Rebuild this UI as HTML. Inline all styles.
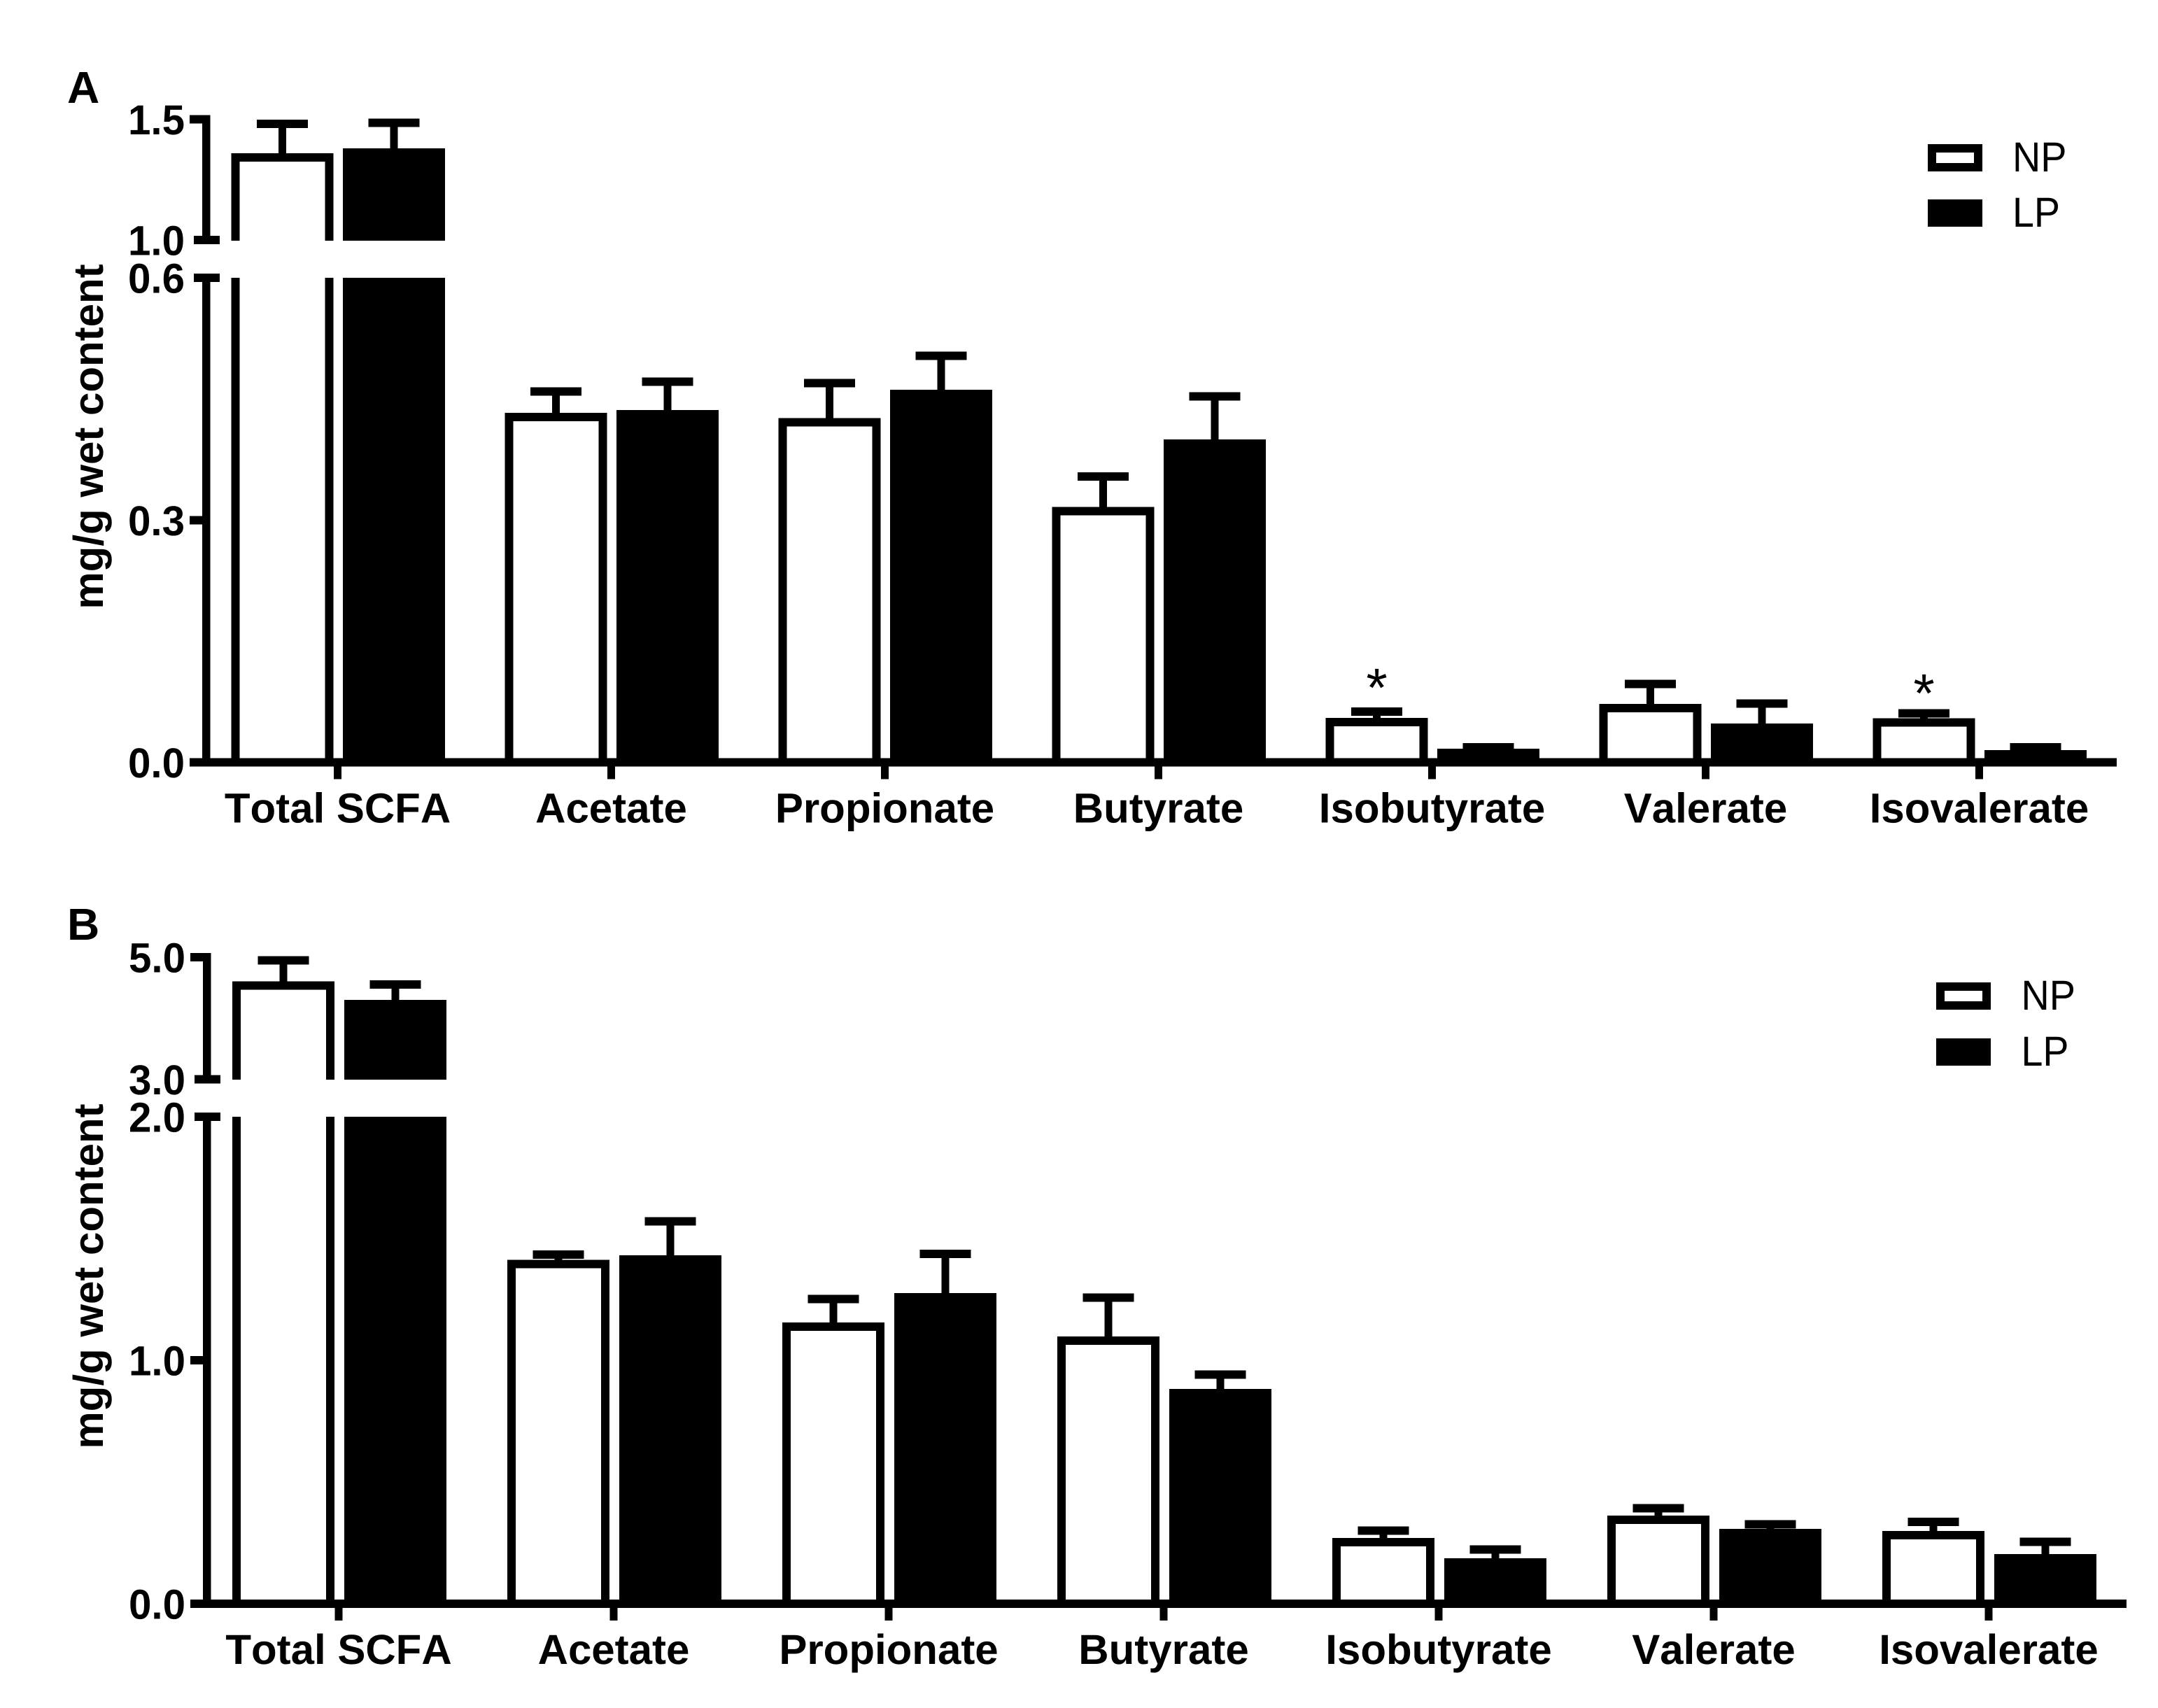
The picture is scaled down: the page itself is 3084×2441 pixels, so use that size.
<!DOCTYPE html>
<html lang="en">
<head>
<meta charset="utf-8">
<title>SCFA content bar charts</title>
<style>
  html, body { margin: 0; padding: 0; background: #fff; }
  svg { display: block; }
  text { font-family: "Liberation Sans", Arial, sans-serif; fill: #000; text-rendering: geometricPrecision; font-kerning: none; }
  .bold { font-weight: bold; }
</style>
</head>
<body>
<svg id="chart" xmlns="http://www.w3.org/2000/svg" width="3084" height="2441" viewBox="0 0 3084 2441">
  <rect x="0" y="0" width="3084" height="2441" fill="#fff"/>
  <text class="bold" x="96" y="147" font-size="64">A</text>
  <text class="bold" x="96" y="1343" font-size="64">B</text>
  <text class="bold" font-size="60" text-anchor="middle" transform="translate(147 624) rotate(-90)">mg/g wet content</text>
  <text class="bold" font-size="60" text-anchor="middle" transform="translate(147 1824) rotate(-90)">mg/g wet content</text>

  <g>
    <rect x="2761" y="212" width="66" height="27" fill="#fff" stroke="#000" stroke-width="12"/>
    <rect x="2755" y="285" width="78" height="39" fill="#000"/>
    <text x="2876" y="245" font-size="60" textLength="77.5" lengthAdjust="spacingAndGlyphs">NP</text>
    <text x="2876" y="324" font-size="60" textLength="68" lengthAdjust="spacingAndGlyphs">LP</text>
  </g>
  <g>
    <rect x="2773" y="1410" width="66" height="27" fill="#fff" stroke="#000" stroke-width="12"/>
    <rect x="2767" y="1484" width="78" height="39" fill="#000"/>
    <text x="2888.5" y="1443" font-size="60" textLength="77.5" lengthAdjust="spacingAndGlyphs">NP</text>
    <text x="2888.5" y="1523" font-size="60" textLength="68" lengthAdjust="spacingAndGlyphs">LP</text>
  </g>
  <g id="plots" shape-rendering="crispEdges"></g>
</svg>
<script>
// ---- data ----
const categories = ['Total SCFA', 'Acetate', 'Propionate', 'Butyrate', 'Isobutyrate', 'Valerate', 'Isovalerate'];

const panelA_np = [1.342, 0.4276, 0.4211, 0.3111, 0.0500, 0.0673, 0.0495];
const panelA_lp = [1.362, 0.4311, 0.4562, 0.3947, 0.0119, 0.0430, 0.0101];
const panelA_np_upper = [1.481, 0.4592, 0.4696, 0.3540, 0.0630, 0.0972, 0.0608];
const panelA_lp_upper = [1.486, 0.4714, 0.5034, 0.4532, 0.0188, 0.0729, 0.0188];
const panelA_ticks = ['0.0', '0.3', '0.6', '1.0', '1.5'];
const panelA_sig_categories = ['Isobutyrate', 'Isovalerate'];
const panelA_sig_levels = [0.1067, 0.0998];

const panelB_np = [4.536, 1.395, 1.138, 1.080, 0.253, 0.345, 0.282];
const panelB_lp = [4.232, 1.414, 1.259, 0.865, 0.170, 0.290, 0.187];
const panelB_np_upper = [4.948, 1.434, 1.251, 1.257, 0.300, 0.392, 0.336];
const panelB_lp_upper = [4.553, 1.570, 1.437, 0.941, 0.223, 0.326, 0.254];
const panelB_ticks = ['0.0', '1.0', '2.0', '3.0', '5.0'];
const panelB_break = [2.0, 3.0];
const panelA_break = [0.6, 1.0];

// ---- drawing ----
const SVG_NS = 'http://www.w3.org/2000/svg';
const root = document.getElementById('plots');

function make(tag, attrs, parent) {
  const el = document.createElementNS(SVG_NS, tag);
  for (const k in attrs) el.setAttribute(k, attrs[k]);
  parent.appendChild(el);
  return el;
}
function slug(s) { return s.toLowerCase().replace(/[^a-z0-9]+/g, '-'); }

function drawPanel(id, cfg) {
  const g = make('g', {}, root);
  
  

  const y = function (v) {
    if (v <= cfg.brk[0]) return cfg.y0 + (cfg.yBrkLow - cfg.y0) * v / cfg.brk[0];
    return cfg.yBrkHigh + (cfg.yTop - cfg.yBrkHigh) * (v - cfg.brk[1]) / (cfg.topVal - cfg.brk[1]);
  };
  const xTick = function (i) { return cfg.x0 + cfg.step * i; };
  const BAR_W = 134, STROKE = 12, STEM = 11, CAP_W = 73;

  categories.forEach(function (cat, i) {
    const name = slug(cat);
    [['np', cfg.np, cfg.npUpper, cfg.npOff], ['lp', cfg.lp, cfg.lpUpper, cfg.lpOff]].forEach(function (s) {
      const key = s[0], val = s[1][i], up = s[2][i], cx = xTick(i) + s[3];
      const stem = make('rect', { x: cx - STEM / 2, y: y(up), width: STEM, height: y(val) - y(up), fill: '#000' }, g);
      
      
      const cap = make('rect', { x: cx - CAP_W / 2, y: y(up) - 6, width: CAP_W, height: 12, fill: '#000' }, g);
      
      
      const bar = make('rect', {
        x: cx - BAR_W / 2, y: y(val), width: BAR_W, height: cfg.y0 - y(val),
        fill: key === 'np' ? '#fff' : '#000', stroke: '#000', 'stroke-width': STROKE
      }, g);
      
      
      if (val > cfg.brk[0]) {
        const gap = make('rect', {
          x: cx - BAR_W / 2 - STROKE, y: cfg.gapTop, width: BAR_W + 2 * STROKE,
          height: cfg.gapBottom - cfg.gapTop, fill: '#fff'
        }, g);
        
        
      }
    });
  });

  // y axis (two segments)
  const axTop = make('rect', { x: cfg.axisX, y: y(cfg.topVal) - 6, width: 11.3, height: y(cfg.brk[1]) - y(cfg.topVal) + 12, fill: '#000' }, g);
  
  
  const axLow = make('rect', { x: cfg.axisX, y: y(cfg.brk[0]) - 6, width: 11.3, height: cfg.y0 - y(cfg.brk[0]) + 6, fill: '#000' }, g);
  
  

  // y ticks
  cfg.ticks.forEach(function (t) {
    const v = parseFloat(t);
    const isBreak = (v === cfg.brk[0] || v === cfg.brk[1]);
    const x1 = isBreak ? cfg.axisX - 12 : cfg.axisX - 18;
    const x2 = isBreak ? cfg.axisX + 25 : cfg.axisX + 11;
    const tick = make('rect', { x: x1, y: y(v) - 6, width: x2 - x1, height: 12, fill: '#000' }, g);
    
    
    const lab = make('text', { x: cfg.axisX - 25, y: y(v) + 21.5, 'font-size': 60, 'text-anchor': 'end', 'class': 'bold', textLength: 81, lengthAdjust: 'spacingAndGlyphs' }, g);
    lab.textContent = t;
    
    
  });

  // x axis
  const xAxis = make('rect', { x: cfg.axisX - 18, y: cfg.y0 - 6, width: cfg.xEnd - cfg.axisX + 18, height: 12, fill: '#000' }, g);
  
  

  categories.forEach(function (cat, i) {
    const tick = make('rect', { x: xTick(i) - 5.5, y: cfg.y0 + 6, width: 11, height: 18, fill: '#000' }, g);
    
    
    const lab = make('text', { x: xTick(i), y: cfg.y0 + 86, 'font-size': 60, 'text-anchor': 'middle', 'class': 'bold' }, g);
    lab.textContent = cat;
    
    
  });

  // significance markers
  (cfg.sigCats || []).forEach(function (cat, k) {
    const i = categories.indexOf(cat);
    const star = make('text', { x: xTick(i) + cfg.npOff, y: y(cfg.sigLevels[k]) + 43, 'font-size': 78, 'text-anchor': 'middle' }, g);
    star.textContent = '*';
    
    
  });
}

drawPanel('a', {
  np: panelA_np, lp: panelA_lp, npUpper: panelA_np_upper, lpUpper: panelA_lp_upper,
  ticks: panelA_ticks, brk: panelA_break, topVal: 1.5,
  sigCats: panelA_sig_categories, sigLevels: panelA_sig_levels,
  y0: 1089.7, yBrkLow: 397, yBrkHigh: 342.8, yTop: 170.6,
  gapTop: 344, gapBottom: 397,
  x0: 482.5, step: 391, npOff: -79, lpOff: 80.5, axisX: 289, xEnd: 3025
});
drawPanel('b', {
  np: panelB_np, lp: panelB_lp, npUpper: panelB_np_upper, lpUpper: panelB_lp_upper,
  ticks: panelB_ticks, brk: panelB_break, topVal: 5.0,
  y0: 2292, yBrkLow: 1596, yBrkHigh: 1542.5, yTop: 1368,
  gapTop: 1543, gapBottom: 1596,
  x0: 484, step: 393, npOff: -79, lpOff: 81, axisX: 290, xEnd: 3039
});
</script>
</body>
</html>
